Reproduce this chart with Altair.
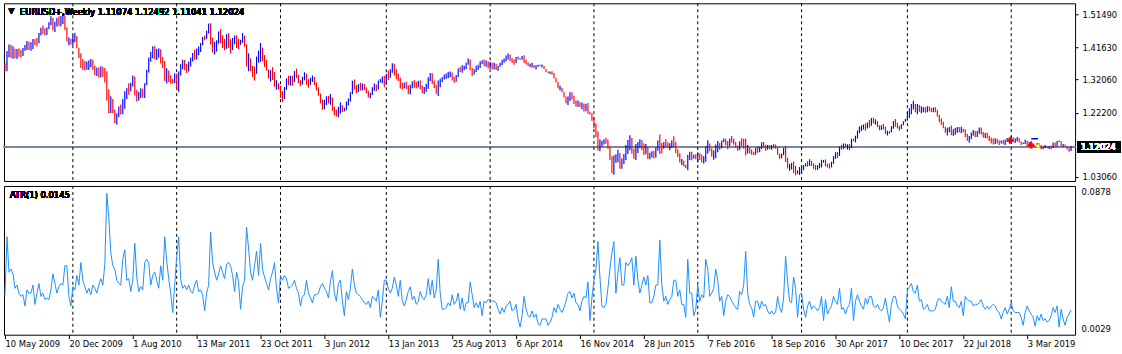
import altair as alt
import pandas as pd

# ---------------- data (EURUSD+ weekly, values in pips: 1.3520 -> 13520) ----------------
first_open = 13640

closes_2009 = [13520, 13990, 14130, 13960, 14060, 13900, 14030, 13990, 13950, 14100, 14200, 14240, 14180, 14200,
               14330, 14320, 14310, 14570, 14700, 14680, 14570, 14720, 14900, 15010, 14700, 14850, 14970, 14900,
               14990, 15030, 14760, 14340, 14340, 14330]
ranges_2009 = [240, 600, 380, 400, 370, 280, 300, 250, 230, 240, 170, 270, 250, 250, 300, 180, 250, 310, 230, 250,
               210, 220, 210, 270, 370, 310, 250, 290, 310, 300, 420, 420, 230, 170]

closes_2010 = [14410, 14500, 14140, 13860, 13680, 13630, 13610, 13630, 13630, 13760, 13530, 13420, 13460, 13370,
               13500, 13380, 13290, 12750, 12360, 12560, 12270, 11960, 12110, 12390, 12240, 12560, 12640, 12940,
               12910, 13050, 13280, 12750, 12710, 12720, 12890, 12710, 13050, 13490, 13790, 13980, 14060, 13950,
               13950, 14040, 13750, 13680, 13240, 13390, 13220, 13200, 13110, 13380]
ranges_2010 = [290, 270, 330, 300, 440, 330, 290, 250, 280, 240, 300, 280, 250, 300, 340, 300, 430, 870, 720, 500,
               420, 400, 330, 310, 300, 460, 520, 330, 340, 260, 330, 560, 350, 260, 290, 270, 440, 460, 440, 300,
               360, 380, 330, 280, 420, 330, 600, 450, 340, 250, 130, 300]

closes_2011 = [12910, 13380, 13620, 13690, 13580, 13490, 13700, 13750, 13990, 13900, 14030, 14090, 14230, 14470,
               14430, 14640, 14810, 14320, 14140, 14150, 14270, 14640, 14360, 14310, 14180, 14500, 14240, 14150,
               14380, 14390, 14280, 14240, 14390, 14500, 14200, 13650, 13790, 13500, 13390, 13380, 13890, 13890,
               14140, 13770, 13750, 13510, 13240, 13390, 13380, 13040, 13050, 12960]
ranges_2011 = [480, 600, 340, 280, 300, 270, 300, 260, 250, 300, 330, 260, 270, 220, 140, 250, 300, 630, 440, 380,
               330, 290, 420, 380, 340, 430, 440, 420, 360, 260, 380, 320, 150, 290, 330, 660, 530, 380, 330, 420,
               510, 360, 560, 400, 350, 310, 250, 340, 380, 440, 280, 190]

closes_2012 = [12720, 12680, 12930, 13210, 13150, 13200, 13140, 13450, 13330, 13120, 13080, 13270, 13340, 13100,
               13080, 13220, 13240, 13090, 12920, 12780, 12510, 12410, 12520, 12640, 12570, 12660, 12290, 12250,
               12160, 12320, 12390, 12290, 12330, 12510, 12570, 12810, 13130, 12980, 12860, 13040, 12950, 13020,
               12940, 12830, 12710, 12750, 12970, 12990, 12930, 13160, 13180, 13220, 13070]
ranges_2012 = [360, 330, 360, 340, 280, 290, 300, 330, 280, 250, 170, 230, 240, 330, 250, 220, 190, 240, 240, 250,
               290, 310, 280, 260, 220, 320, 390, 250, 200, 310, 330, 200, 110, 260, 210, 280, 400, 300, 250, 240,
               230, 210, 190, 180, 200, 160, 230, 220, 200, 270, 100, 200, 330]

closes_2013 = [13360, 13310, 13460, 13640, 13370, 13360, 13190, 13020, 13000, 13070, 12990, 12820, 12990, 13110,
               13050, 13030, 13110, 12990, 12830, 12930, 12990, 13220, 13340, 13120, 13010, 12830, 13070, 13140,
               13280, 13280, 13340, 13340, 13380, 13220, 13180, 13300, 13520, 13490, 13550, 13550, 13680, 13800,
               13490, 13370, 13500, 13550, 13590, 13710, 13740, 13670, 13690, 13590]
ranges_2013 = [330, 280, 250, 280, 350, 300, 230, 330, 200, 170, 210, 260, 290, 210, 230, 180, 200, 260, 220, 210,
               240, 340, 240, 330, 220, 270, 460, 250, 150, 150, 160, 190, 170, 240, 180, 200, 250, 150, 220, 140,
               190, 190, 320, 240, 160, 190, 160, 200, 110, 200, 190, 210]

closes_2014 = [13670, 13540, 13680, 13490, 13600, 13690, 13740, 13800, 13870, 13910, 13790, 13750, 13700, 13880,
               13810, 13830, 13870, 13760, 13700, 13630, 13630, 13640, 13540, 13600, 13640, 13610, 13610, 13520,
               13430, 13410, 13410, 13400, 13240, 13130, 12950, 12960, 12830, 12680, 12520, 12630, 12760, 12670,
               12530, 12450, 12530, 12390, 12450, 12290, 12460, 12230, 12180, 12000]
ranges_2014 = [210, 200, 200, 170, 150, 120, 160, 130, 170, 180, 200, 140, 150, 110, 90, 40, 110, 230, 150, 110,
               100, 140, 100, 120, 60, 50, 90, 60, 80, 50, 70, 100, 80, 130, 180, 150, 120, 160, 200, 250,
               260, 220, 250, 190, 180, 130, 200, 230, 220, 320, 80, 220]

closes_2015 = [11840, 11560, 11200, 11290, 11310, 11390, 11380, 11190, 10840, 10500, 10820, 10890, 10970, 10600,
               10810, 10870, 11200, 11200, 11450, 11010, 10990, 11110, 11260, 11350, 11160, 11110, 11160, 10880,
               10980, 10980, 10970, 11100, 11380, 11180, 11150, 11340, 11300, 11200, 11210, 11360, 11350, 11020,
               11010, 10740, 10770, 10650, 10590, 10880, 10990, 10870, 10960, 10860]
ranges_2015 = [330, 400, 570, 350, 170, 160, 180, 280, 400, 500, 570, 250, 370, 470, 300, 300, 440, 420, 440, 470,
               300, 480, 330, 250, 300, 350, 300, 360, 190, 190, 230, 300, 300, 580, 300, 200, 230, 180, 210, 230,
               330, 300, 230, 180, 180, 180, 100, 460, 250, 250, 110, 150]

closes_2016 = [10920, 10910, 10800, 10830, 11150, 11250, 11130, 10930, 10990, 11150, 11270, 11170, 11390, 11400,
               11290, 11220, 11450, 11400, 11310, 11220, 11110, 11370, 11310, 11280, 11120, 11140, 11050, 11040,
               10970, 11170, 11080, 11160, 11320, 11200, 11150, 11230, 11150, 11230, 11220, 11200, 10970, 10880,
               10980, 11140, 10850, 10590, 10590, 10660, 10530, 10450, 10450, 10520]
ranges_2016 = [300, 200, 240, 220, 460, 400, 230, 250, 280, 400, 330, 200, 230, 110, 200, 240, 220, 200, 180, 160,
               150, 260, 240, 300, 510, 250, 180, 160, 100, 180, 200, 150, 200, 170, 180, 140, 120, 140, 120, 130,
               210, 160, 130, 220, 480, 320, 200, 190, 350, 280, 100, 240]

closes_2017 = [10530, 10640, 10700, 10690, 10780, 10640, 10620, 10560, 10620, 10670, 10740, 10800, 10650, 10640,
               10620, 10730, 10900, 10990, 10930, 11210, 11170, 11280, 11200, 11200, 11190, 11420, 11400, 11470,
               11670, 11750, 11770, 11820, 11760, 11920, 11860, 12030, 11940, 11950, 11810, 11730, 11820, 11780,
               11610, 11610, 11660, 11790, 11930, 11900, 11770, 11740, 11870, 11940, 12030]
ranges_2017 = [250, 150, 100, 170, 200, 150, 170, 160, 140, 160, 230, 80, 210, 120, 150, 170, 230, 200, 180, 270,
               150, 160, 120, 160, 180, 280, 80, 200, 240, 200, 170, 150, 220, 180, 230, 230, 170, 160, 180, 150,
               140, 160, 220, 140, 70, 180, 230, 230, 170, 150, 140, 120, 80]

closes_2018 = [12200, 12220, 12430, 12460, 12250, 12400, 12300, 12310, 12310, 12290, 12350, 12320, 12280, 12330,
               12290, 12130, 11960, 11940, 11770, 11650, 11660, 11770, 11610, 11650, 11680, 11740, 11690, 11720,
               11660, 11570, 11410, 11440, 11620, 11620, 11550, 11620, 11750, 11600, 11520, 11560, 11510, 11400,
               11380, 11340, 11410, 11340, 11310, 11380, 11310, 11370, 11440, 11390]
ranges_2018 = [270, 290, 310, 260, 250, 300, 200, 210, 150, 160, 180, 140, 140, 140, 150, 200, 220, 200, 190, 180,
               230, 160, 290, 200, 200, 170, 160, 200, 110, 230, 210, 200, 200, 170, 180, 180, 190, 210, 170, 150,
               170, 150, 170, 180, 170, 140, 130, 90, 130, 160, 120, 150]

closes_2019 = [11470, 11360, 11410, 11460, 11330, 11290, 11330, 11370, 11230, 11330, 11300, 11220, 11220, 11300,
               11240, 11150, 11200, 11230, 11160, 11200, 11170, 11330, 11210, 11370, 11370, 11220, 11270, 11220,
               11130, 11107, 11202]
ranges_2019 = [190, 140, 130, 130, 130, 100, 50, 130, 170, 140, 120, 100, 45, 110, 80, 120, 80, 90, 70, 80,
               110, 160, 130, 170, 40, 110, 90, 50, 100, 120, 145]

year_start_weeks = [34, 86, 138, 191, 243, 295, 347, 399, 452, 504]

date_labels = ["10 May 2009", "20 Dec 2009", "1 Aug 2010", "13 Mar 2011", "23 Oct 2011", "3 Jun 2012",
               "13 Jan 2013", "25 Aug 2013", "6 Apr 2014", "16 Nov 2014", "28 Jun 2015", "7 Feb 2016",
               "18 Sep 2016", "30 Apr 2017", "10 Dec 2017", "22 Jul 2018", "3 Mar 2019"]
label_step = 32

price_ticks = [1.0306, 1.2220, 1.3206, 1.4163, 1.5149]
atr_ticks = [0.0029, 0.0878]
last_price = 1.12024
header = "EURUSD+,Weekly  1.11074 1.12492 1.11041 1.12024"
atr_header = "ATR(1) 0.0145"

trade_marks_i = [503.5, 514.0]
trade_marks_p = [1.1390, 1.1245]
pending_i = [514.0, 517.5]
pending_p = 1.1445
close_mark_i = [517.0]
close_mark_p = [1.1225]

# ---------------- build table ----------------
closes = (closes_2009 + closes_2010 + closes_2011 + closes_2012 + closes_2013 + closes_2014 + closes_2015 +
          closes_2016 + closes_2017 + closes_2018 + closes_2019)
ranges = (ranges_2009 + ranges_2010 + ranges_2011 + ranges_2012 + ranges_2013 + ranges_2014 + ranges_2015 +
          ranges_2016 + ranges_2017 + ranges_2018 + ranges_2019)
assert len(closes) == 535 and len(ranges) == 535

rows = []
prev = first_open
for i, (c, r) in enumerate(zip(closes, ranges)):
    o = prev
    top, bot = max(o, c), min(o, c)
    extra = max(r - (top - bot), 0) / 2.0
    hi, lo = top + extra, bot - extra
    rows.append({"i": i, "low": lo / 1e4, "high": hi / 1e4,
                 "dir": "up" if c >= o else "down", "atr": (hi - lo) / 1e4})
    prev = c
bars = pd.DataFrame(rows)
seps = pd.DataFrame({"i": year_start_weeks})

# ---------------- layout ----------------
W = 1073
H1 = 178
H2 = 149
FONT = "DejaVu Sans"
FS = 8.4

xscale = alt.Scale(domain=[-0.5, 536.0], nice=False, zero=False)
y1 = alt.Scale(domain=[1.0187, 1.5476], nice=False, zero=False)
y2 = alt.Scale(domain=[-0.0008, 0.0915], nice=False, zero=False)

price_axis = alt.Axis(orient="right", values=price_ticks, format=".5f", tickSize=3, labelPadding=4,
                      domain=False, grid=False, title=None, labelFont=FONT, labelFontSize=FS,
                      labelColor="black", tickColor="black", labelOverlap=False, labelFlush=False)
atr_axis = alt.Axis(orient="right", values=atr_ticks, format=".4f", tickSize=0, labelPadding=6,
                    domain=False, grid=False, title=None, labelFont=FONT, labelFontSize=FS,
                    labelColor="black", labelOverlap=False, labelFlush=False)
label_js = "[" + ",".join("'%s'" % s for s in date_labels) + "]"
x_axis = alt.Axis(orient="bottom", values=[k * label_step for k in range(len(date_labels))],
                  labelExpr=label_js + "[round(datum.value/%d)]" % label_step,
                  tickSize=4, labelAlign="left", labelPadding=1, domain=False, grid=False, title=None,
                  labelFont=FONT, labelFontSize=FS, labelColor="black", tickColor="black",
                  labelFlush=False, labelOverlap=False, labelBound=False)

base_bars = alt.Chart(bars)

price_line = alt.Chart(bars).mark_rule(color="#778899", strokeWidth=1).encode(
    y=alt.Y(datum=last_price, scale=y1, axis=price_axis))

sep_upper = alt.Chart(seps).mark_rule(color="black", strokeWidth=1, strokeDash=[3, 3]).encode(
    x=alt.X("i:Q", scale=xscale, axis=None))

ohlc = base_bars.mark_rule(strokeWidth=1.15).encode(
    x=alt.X("i:Q", scale=xscale, axis=None),
    y=alt.Y("low:Q", scale=y1, axis=price_axis),
    y2="high:Q",
    color=alt.Color("dir:N", scale=alt.Scale(domain=["up", "down"], range=["#0000ff", "#ff0000"]), legend=None))

marks_df = pd.DataFrame({"i": trade_marks_i, "p": trade_marks_p})
trade_pts = alt.Chart(marks_df).mark_point(shape="cross", filled=True, color="#ff0000", size=40, opacity=1).encode(
    x=alt.X("i:Q", scale=xscale, axis=None), y=alt.Y("p:Q", scale=y1, axis=price_axis))
pend_df = pd.DataFrame({"i": [pending_i[0]], "i2": [pending_i[1]], "p": [pending_p]})
pend = alt.Chart(pend_df).mark_rule(color="#0000ff", strokeWidth=1.5).encode(
    x=alt.X("i:Q", scale=xscale, axis=None), x2="i2:Q", y=alt.Y("p:Q", scale=y1, axis=price_axis))
close_df = pd.DataFrame({"i": close_mark_i, "p": close_mark_p})
close_pt = alt.Chart(close_df).mark_point(shape="triangle-left", filled=True, color="#ffff00", size=30,
                                           opacity=1).encode(
    x=alt.X("i:Q", scale=xscale, axis=None), y=alt.Y("p:Q", scale=y1, axis=price_axis))

box = alt.Chart(bars).mark_rect(color="black", yOffset=-6, y2Offset=6).encode(
    x=alt.value(W + 2), x2=alt.value(W + 46),
    y=alt.Y(datum=last_price, scale=y1, axis=price_axis), y2=alt.Y2(datum=last_price))
box_txt = alt.Chart(bars).mark_text(align="left", baseline="middle", color="white", font=FONT,
                                    fontSize=FS).encode(
    x=alt.value(W + 6), y=alt.Y(datum=last_price, scale=y1, axis=price_axis), text=alt.value("%.5f" % last_price))

tri = alt.Chart(bars).mark_text(align="center", baseline="middle", color="black", fontSize=7, font=FONT).encode(
    x=alt.value(7.5), y=alt.value(8), text=alt.value("\u25bc"))
head = alt.Chart(bars).mark_text(align="left", baseline="middle", color="black", fontSize=FS, font=FONT).encode(
    x=alt.value(16), y=alt.value(8.5), text=alt.value(header))

upper = alt.layer(price_line, sep_upper, ohlc, pend, trade_pts, close_pt, box, box_txt, tri, head).properties(
    width=W, height=H1)

sep_lower = alt.Chart(seps).mark_rule(color="black", strokeWidth=1, strokeDash=[3, 3]).encode(
    x=alt.X("i:Q", scale=xscale, axis=x_axis))
atr_line = base_bars.mark_line(color="#1e90ff", strokeWidth=1).encode(
    x=alt.X("i:Q", scale=xscale, axis=x_axis),
    y=alt.Y("atr:Q", scale=y2, axis=atr_axis))
atr_head = alt.Chart(bars).mark_text(align="left", baseline="middle", color="black", fontSize=FS, font=FONT).encode(
    x=alt.value(6), y=alt.value(9), text=alt.value(atr_header))

lower = alt.layer(sep_lower, atr_line, atr_head).properties(width=W, height=H2)

chart = alt.vconcat(upper, lower, spacing=3).properties(
    padding={"left": 2, "top": 2, "right": 0, "bottom": 0},
    background="white",
).configure_view(stroke="black", strokeWidth=1).configure_concat(spacing=3)

chart.save("out.html", embed_options={"renderer": "svg", "actions": False})
